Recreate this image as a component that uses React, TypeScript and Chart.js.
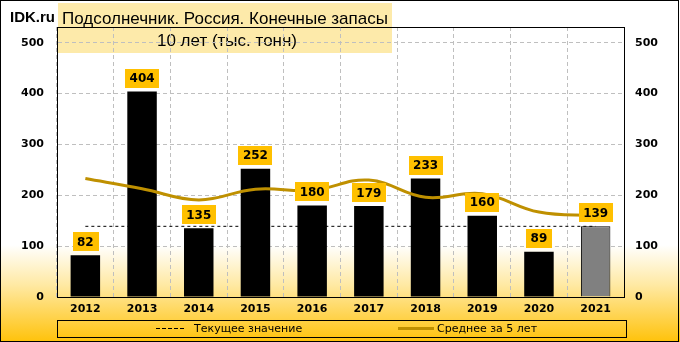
import React, { useEffect, useRef } from "react";
import { Chart, registerables } from "chart.js";

Chart.register(...registerables);

const categories = ["2012", "2013", "2014", "2015", "2016", "2017", "2018", "2019", "2020", "2021"];
const stocks = [82, 404, 135, 252, 180, 179, 233, 160, 89, 139];
const avg5 = [233, 213, 191, 212, 210, 230, 196, 203, 167, 160];
const currentValue = 139;
const currentLine = categories.map(() => currentValue);
const yTicks = [0, 100, 200, 300, 400, 500];

const TITLE1 = "Подсолнечник. Россия. Конечные запасы";
const TITLE2 = "10 лет (тыс. тонн)";
const LEG1 = "Текущее значение";
const LEG2 = "Среднее за 5 лет";
const FONT = "'DejaVu Sans', Verdana, sans-serif";

const decorPlugin = {
  id: "decor",
  beforeDraw(chart: any) {
    const ctx = chart.ctx;
    const W = chart.width, H = chart.height;
    ctx.save();
    const g = ctx.createLinearGradient(0, 0, 0, H);
    g.addColorStop(0, "#FFFFFF");
    g.addColorStop(245 / H, "#FFFFFF");
    g.addColorStop(285 / H, "#FFE9A3");
    g.addColorStop(1, "#FFC20A");
    ctx.fillStyle = g;
    ctx.fillRect(0, 0, W, H);
    // title box
    ctx.fillStyle = "#FDEAAA";
    ctx.fillRect(58, 3, 334, 50);
    ctx.fillStyle = "#000";
    ctx.textAlign = "center";
    ctx.textBaseline = "middle";
    ctx.font = "17px 'Liberation Sans', Arial, sans-serif";
    ctx.fillText(TITLE1, 225, 19);
    ctx.fillText(TITLE2, 227, 41);
    ctx.textAlign = "left";
    ctx.font = "bold 15px 'Liberation Sans', Arial, sans-serif";
    ctx.fillText("IDK.ru", 10, 18);
    ctx.restore();
  },
  afterDatasetsDraw(chart: any) {
    const ctx = chart.ctx;
    const meta = chart.getDatasetMeta(2);
    ctx.save();
    ctx.font = "bold 12px " + FONT;
    ctx.textAlign = "center";
    ctx.textBaseline = "middle";
    meta.data.forEach((el: any, i: number) => {
      const txt = String(stocks[i]);
      const w = ctx.measureText(txt).width + 9;
      const h = 19;
      const bottom = el.y - 4;
      ctx.fillStyle = "#FFC000";
      ctx.fillRect(Math.round(el.x - w / 2), Math.round(bottom - h), Math.round(w), h);
      ctx.fillStyle = "#000";
      ctx.fillText(txt, el.x, bottom - h / 2 + 1);
    });
    ctx.restore();
  },
  afterDraw(chart: any) {
    const ctx = chart.ctx;
    const a = chart.chartArea;
    ctx.save();
    ctx.strokeStyle = "#000";
    ctx.lineWidth = 1;
    // top border of plot
    ctx.beginPath();
    ctx.moveTo(a.left, Math.round(a.top) + 0.5);
    ctx.lineTo(a.right, Math.round(a.top) + 0.5);
    ctx.stroke();
    // outer frame
    ctx.strokeRect(0.5, 0.5, chart.width - 2, chart.height - 1);
    // legend box
    ctx.strokeRect(57.5, 320.5, 569, 17);
    ctx.beginPath();
    ctx.setLineDash([4, 2]);
    ctx.moveTo(156, 328.5);
    ctx.lineTo(185, 328.5);
    ctx.stroke();
    ctx.setLineDash([]);
    ctx.strokeStyle = "#BF9000";
    ctx.lineWidth = 3;
    ctx.beginPath();
    ctx.moveTo(398, 328.5);
    ctx.lineTo(434, 328.5);
    ctx.stroke();
    ctx.fillStyle = "#000";
    ctx.font = "11px " + FONT;
    ctx.textAlign = "left";
    ctx.textBaseline = "middle";
    ctx.fillText(LEG1, 194, 329);
    ctx.fillText(LEG2, 437, 329);
    ctx.restore();
  },
};

export default function App() {
  const ref = useRef<HTMLCanvasElement>(null);
  useEffect(() => {
    document.body.style.margin = "0";
    const tickFont = { family: FONT, size: 11, weight: "bold" as const };
    const chart = new Chart(ref.current as HTMLCanvasElement, {
      type: "bar",
      data: {
        labels: categories,
        datasets: [
          {
            type: "line",
            label: LEG2,
            data: avg5,
            borderColor: "#BF9000",
            borderWidth: 3,
            tension: 0.4,
            pointRadius: 0,
            fill: false,
            order: 1,
          } as any,
          {
            type: "line",
            label: LEG1,
            data: currentLine,
            borderColor: "#000",
            borderWidth: 1,
            borderDash: [3, 3],
            pointRadius: 0,
            fill: false,
            order: 3,
          } as any,
          {
            type: "bar",
            label: "Запасы",
            data: stocks,
            backgroundColor: stocks.map((_, i) => (i === stocks.length - 1 ? "#808080" : "#000000")),
            borderColor: "#000",
            borderWidth: stocks.map((_, i) => (i === stocks.length - 1 ? 1 : 0)),
            barPercentage: 0.52,
            categoryPercentage: 1,
            order: 2,
          } as any,
        ],
      },
      options: {
        responsive: false,
        animation: false,
        devicePixelRatio: 1,
        layout: { padding: { top: 27, left: 0, right: 0, bottom: 0 } },
        plugins: { legend: { display: false }, tooltip: { enabled: false }, title: { display: false } },
        scales: {
          x: {
            offset: true,
            grid: { display: true, offset: true, color: "#BFBFBF", drawTicks: false },
            border: { display: true, color: "#000", width: 1, dash: [4, 3] },
            ticks: { color: "#000", font: tickFont, padding: 6, maxRotation: 0 },
            afterFit: (s: any) => { s.height = 45; },
          },
          y: {
            position: "left",
            min: 0,
            max: 531,
            grid: { color: "#BFBFBF", drawTicks: false },
            border: { display: true, color: "#000", width: 1, dash: [4, 3] },
            ticks: { color: "#000", font: tickFont, padding: 13 },
            afterBuildTicks: (s: any) => { s.ticks = yTicks.map((v) => ({ value: v })); },
            afterFit: (s: any) => { s.width = 57; },
          },
          y2: {
            position: "right",
            min: 0,
            max: 531,
            grid: { display: false, drawTicks: false },
            border: { display: true, color: "#000", width: 1 },
            ticks: { color: "#000", font: tickFont, padding: 11 },
            afterBuildTicks: (s: any) => { s.ticks = yTicks.map((v) => ({ value: v })); },
            afterFit: (s: any) => { s.width = 56; },
          },
        },
      },
      plugins: [decorPlugin],
    } as any);
    return () => chart.destroy();
  }, []);
  return <canvas ref={ref} width={680} height={342} style={{ display: "block" }} />;
}
